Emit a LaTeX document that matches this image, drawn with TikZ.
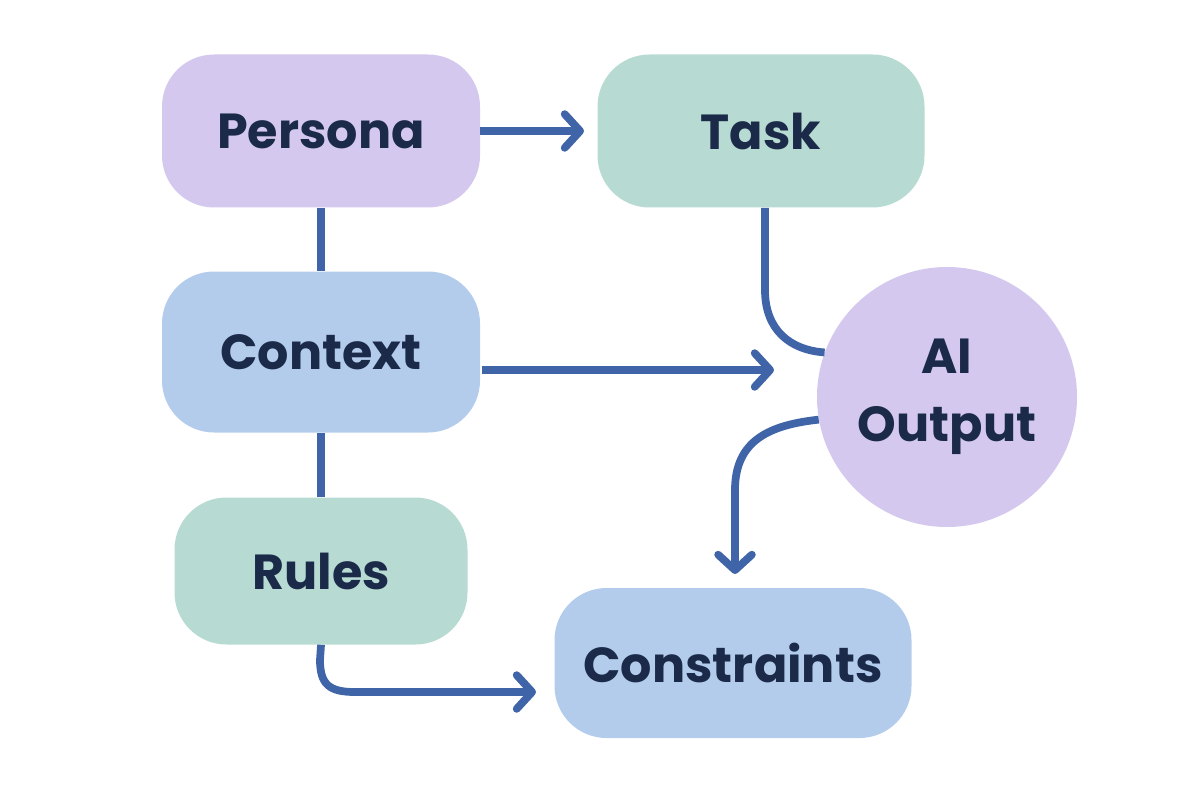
\documentclass[tikz,border=0pt]{standalone}
\usepackage{fontspec}
\setmainfont{Poppins}
\usetikzlibrary{arrows.meta}
\definecolor{lav}{HTML}{D4C8EE}
\definecolor{mint}{HTML}{B7DAD3}
\definecolor{sky}{HTML}{B4CCEC}
\definecolor{ln}{HTML}{3F65A8}
\definecolor{txt}{HTML}{1A2A48}
\begin{document}
\begin{tikzpicture}[x=0.025cm,y=-0.025cm,
 box/.style={draw=none,rounded corners=1.3cm,inner sep=0,text=txt,font=\fontsize{35}{40}\selectfont\bfseries},
 con/.style={draw=ln,line width=5.5pt},
 arr/.style={con,-{Straight Barb[length=11pt,width=24pt,line width=5.5pt,round]}}]
\useasboundingbox (0,0) rectangle (1200,800);
\node[box,fill=lav,minimum width=318*0.025cm,minimum height=153*0.025cm] (persona) at (321,131) {Persona};
\node[box,fill=mint,minimum width=327*0.025cm,minimum height=153*0.025cm] (task) at (761,131) {Task};
\node[box,fill=sky,minimum width=318*0.025cm,minimum height=161*0.025cm] (context) at (321,352) {Context};
\node[box,fill=mint,minimum width=293*0.025cm,minimum height=147*0.025cm] (rules) at (321,571) {Rules};
\node[box,fill=sky,minimum width=357*0.025cm,minimum height=150*0.025cm] (cons) at (733,663) {Constraints};
\node[circle,fill=lav,minimum size=260*0.025cm,inner sep=0,text=txt,align=center,font=\fontsize{35}{48}\selectfont\bfseries] (ai) at (947,397) {AI\\Output};
\coordinate (t1) at (765,208);
\draw[arr] (persona.east) -- (584,131);
\draw[con] (persona.south) -- (context.north);
\draw[con] (context.south) -- (rules.north);
\draw[arr] (482,370) -- (774,370);
\draw[con] (t1) -- (765,290) .. controls (765,330) and (790,350) .. (ai.160);
\draw[arr] (ai.190) .. controls (770,425) and (735,440) .. (735,490) -- (735,574);
\draw[arr] (rules.south) -- (320,660) .. controls (320,685) and (330,692) .. (355,692) -- (536,692);
\end{tikzpicture}
\end{document}
